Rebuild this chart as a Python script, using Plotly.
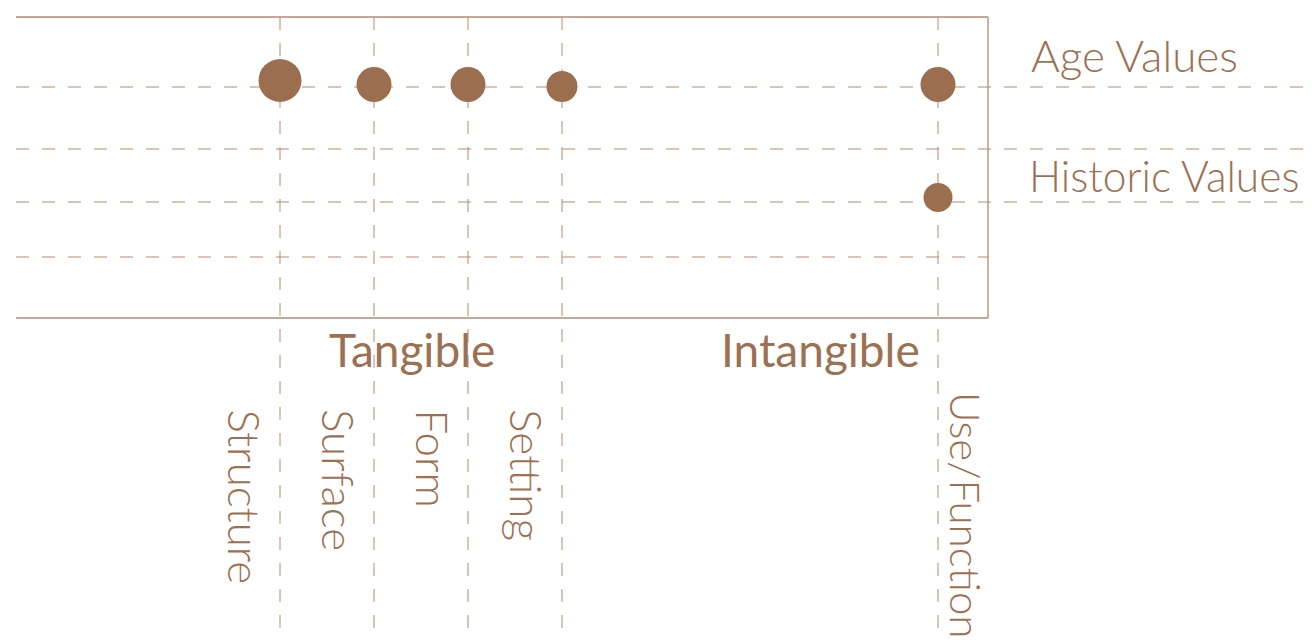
import plotly.graph_objects as go

# ---------------- data ----------------
tangible = ["Structure", "Surface", "Form", "Setting"]
intangible = ["Use/Function"]
intangible_gap = 3          # empty attribute slots before Use/Function
value_types = ["Age Values", "Historic Values"]
group_labels = ["Tangible", "Intangible"]

# importance of each attribute for each value type (dot size)
age_values = {"Structure": 4.3, "Surface": 3.5, "Form": 3.5, "Setting": 3.1, "Use/Function": 3.5}
historic_values = {"Use/Function": 2.9}

# ---------------- layout constants ----------------
W, H = 1312, 641
PAGE_OFF = 8                           # default body margin of the html page
L, R, T, B = 16, 988, 17, 318          # box in screen pixels
PW, PH = R - L, B - T
DOT = "#9A6E4F"
LINE = "rgb(181,138,108)"
TXT = "#9C7152"
FONT = "Lato"

gaps = ["_gap%d" % i for i in range(intangible_gap)]
cat_order = tangible + gaps + intangible
step = 94.0
x0_idx = -(280 - L) / step
x1_idx = x0_idx + PW / step

def px(x):
    return (x - L) / PW

def py(y):
    return (B - y) / PH

# rows: y axis in pixel units from top of box (reversed)
row_lines = [87 - T, 149 - T, 202 - T, 257 - T]
row_anchor = {"Age Values": 102 - T, "Historic Values": 212 - T}
SIZE_K = 10

fig = go.Figure()
for vt, vals in [("Age Values", age_values), ("Historic Values", historic_values)]:
    xs = list(vals.keys())
    sizes = [v * SIZE_K for v in vals.values()]
    ys = [row_anchor[vt] - s / 2 for s in sizes]
    fig.add_trace(go.Scatter(
        x=xs, y=ys, mode="markers", name=vt,
        marker=dict(size=sizes, color=DOT, line=dict(width=0), opacity=1),
        hoverinfo="x+name", showlegend=False, cliponaxis=False))

shapes = []
# box: top, bottom, right
for (a, b, c, d) in [(0, 1, 1, 1), (0, 1, 0, 0), (1, 1, 0, 1)]:
    shapes.append(dict(type="line", xref="paper", yref="paper", x0=a, x1=b, y0=c, y1=d,
                       line=dict(color=LINE, width=1.3)))
# horizontal dashed lines
for i, yv in enumerate(row_lines):
    x_end = px(W + 5) if i < 3 else 1
    shapes.append(dict(type="line", xref="paper", yref="y", x0=0, x1=x_end, y0=yv, y1=yv,
                       line=dict(color=LINE, width=1, dash="13px,13px"), layer="below"))
# vertical dashed lines
for c in tangible + intangible:
    shapes.append(dict(type="line", xref="x", yref="paper", x0=c, x1=c, y0=1, y1=py(H + 5),
                       line=dict(color=LINE, width=1, dash="13px,13px"), layer="below"))

ann = []
# row labels
row_label_pos = {"Age Values": (1029, 82.5, 44), "Historic Values": (1027, 203, 42.5)}
for vt in value_types:
    xx, yy, fs = row_label_pos[vt]
    ann.append(dict(text=vt, xref="paper", yref="paper", x=px(xx), y=py(yy),
                    xanchor="left", yanchor="bottom", showarrow=False,
                    font=dict(family=FONT, size=fs, color=TXT, weight=300)))
# group labels
for g, cx in zip(group_labels, [412, 820]):
    ann.append(dict(text=g, xref="paper", yref="paper", x=px(cx), y=py(379),
                    xanchor="center", yanchor="bottom", showarrow=False,
                    font=dict(family=FONT, size=46, color=TXT, weight=400)))
# rotated attribute labels
for c in tangible + intangible:
    left = c in tangible
    ann.append(dict(text=c, xref="x", yref="paper", x=c, y=py(407 if left else 390),
                    xanchor="left", yanchor="top", textangle=90,
                    xshift=-63 if left else 1, showarrow=False,
                    font=dict(family=FONT, size=44 if left else 42, color=TXT, weight=300)))

fig.update_layout(
    width=W - PAGE_OFF, height=H - PAGE_OFF,
    margin=dict(l=L - PAGE_OFF, r=W - R, t=T - PAGE_OFF, b=H - B),
    paper_bgcolor="white", plot_bgcolor="white",
    shapes=shapes, annotations=ann, showlegend=False,
    xaxis=dict(type="category", categoryorder="array", categoryarray=cat_order,
               range=[x0_idx, x1_idx], showgrid=False, zeroline=False,
               showticklabels=False, ticks="", showline=False, fixedrange=True),
    yaxis=dict(range=[PH, 0], showgrid=False, zeroline=False, showticklabels=False,
               ticks="", showline=False, fixedrange=True),
)

fig.write_html("out.html")
